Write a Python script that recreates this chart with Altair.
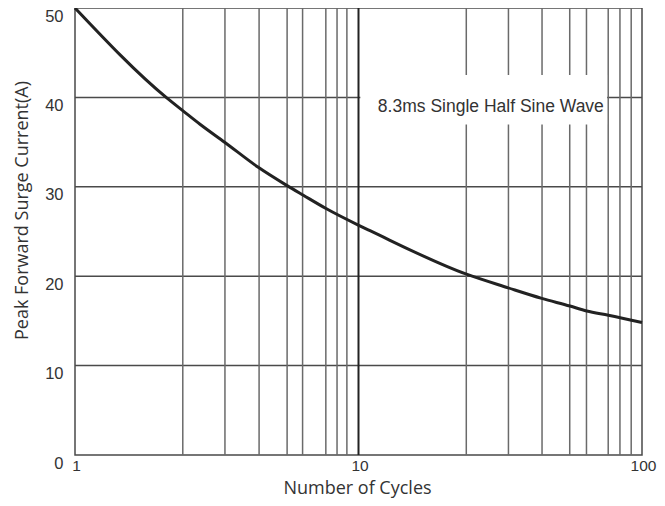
import altair as alt
import pandas as pd

# curve
cycles = [1, 2.107, 2.41, 2.76, 3.38, 4.43, 5.58, 6.39, 7.68, 9.98, 10.98, 23.9, 33.7, 44.3, 55.7, 63.8, 76.1, 100]
current = [50.0, 39.94, 38.47, 37.0, 34.96, 32.18, 30.16, 29.05, 27.57, 25.72, 25.09, 20.25, 18.7, 17.52, 16.66, 16.11, 15.63, 14.82]

# grid lines as drawn in the original
vgrid = [2.4, 3.38, 4.46, 5.6, 6.35, 7.67, 8.4, 9.1, 24, 33.8, 44.4, 55.6, 63.7, 76, 83.6, 91.6]
hgrid = [10, 20, 30, 40]
x_ticks = [1, 10, 100]
y_ticks = [0, 10, 20, 30, 40, 50]

note = "8.3ms Single Half Sine Wave"
note_box = {"x": 10.15, "x2": 75.3, "y": 36.97, "y2": 42.5}
note_pos = {"x": 29.3, "y": 38.98}

xs = alt.Scale(type="log", domain=[1, 100], nice=False)
ys = alt.Scale(domain=[0, 50], nice=False)

x_axis = alt.Axis(
    values=x_ticks, grid=False, ticks=False, domain=False, labelExpr="datum.value",
    labelFlush=False, labelOffset=1,
    labelFont="Liberation Sans", labelFontSize=15.5, labelColor="#333333", labelPadding=3,
    title="Number of Cycles", titleFont="Open Sans", titleFontSize=18, titleFontWeight="normal",
    titleColor="#333333", titleX=282, titleY=33, titleBaseline="middle", titleAlign="center")
y_axis = alt.Axis(
    values=y_ticks, grid=False, ticks=False, domain=False,
    labelFont="Liberation Sans", labelFontSize=16.5, labelColor="#333333", labelPadding=12,
    labelBaseline="top", labelOffset=0,
    title="Peak Forward Surge Current(A)", titleFont="Open Sans", titleFontSize=18,
    titleFontWeight="normal", titleColor="#333333", titleX=-53, titleY=202,
    titleBaseline="middle", titleAlign="center")

curve_df = pd.DataFrame({"n": cycles, "a": current})

line = alt.Chart(curve_df).mark_line(color="#222222", strokeWidth=3, interpolate="monotone").encode(
    x=alt.X("n:Q", scale=xs, axis=x_axis),
    y=alt.Y("a:Q", scale=ys, axis=y_axis),
)
hg = alt.Chart(pd.DataFrame({"v": hgrid})).mark_rule(color="#4a4a4a", strokeWidth=1.5).encode(
    y=alt.Y("v:Q", scale=ys, axis=y_axis))
vg = alt.Chart(pd.DataFrame({"v": vgrid})).mark_rule(color="#6a6a6a", strokeWidth=1.5).encode(
    x=alt.X("v:Q", scale=xs, axis=x_axis))
ten = alt.Chart(pd.DataFrame({"v": [10]})).mark_rule(color="#222222", strokeWidth=2).encode(
    x=alt.X("v:Q", scale=xs, axis=x_axis))
box = alt.Chart(pd.DataFrame([note_box])).mark_rect(color="white").encode(
    x=alt.X("x:Q", scale=xs, axis=x_axis), x2="x2:Q",
    y=alt.Y("y:Q", scale=ys, axis=y_axis), y2="y2:Q")
txt = alt.Chart(pd.DataFrame([{**note_pos, "t": note}])).mark_text(
    font="Liberation Sans", fontSize=17.5, color="#333333", align="center", baseline="middle").encode(
    x=alt.X("x:Q", scale=xs, axis=x_axis), y=alt.Y("y:Q", scale=ys, axis=y_axis), text="t:N")

chart = alt.layer(hg, vg, ten, box, txt, line).properties(
    width=567, height=447,
    autosize=alt.AutoSizeParams(type="none"),
    padding={"left": 67, "top": 0, "right": 15, "bottom": 43},
).configure_view(stroke="#4a4a4a", strokeWidth=1.5)

chart.save("out.html", embed_options={"renderer": "svg", "actions": False})
